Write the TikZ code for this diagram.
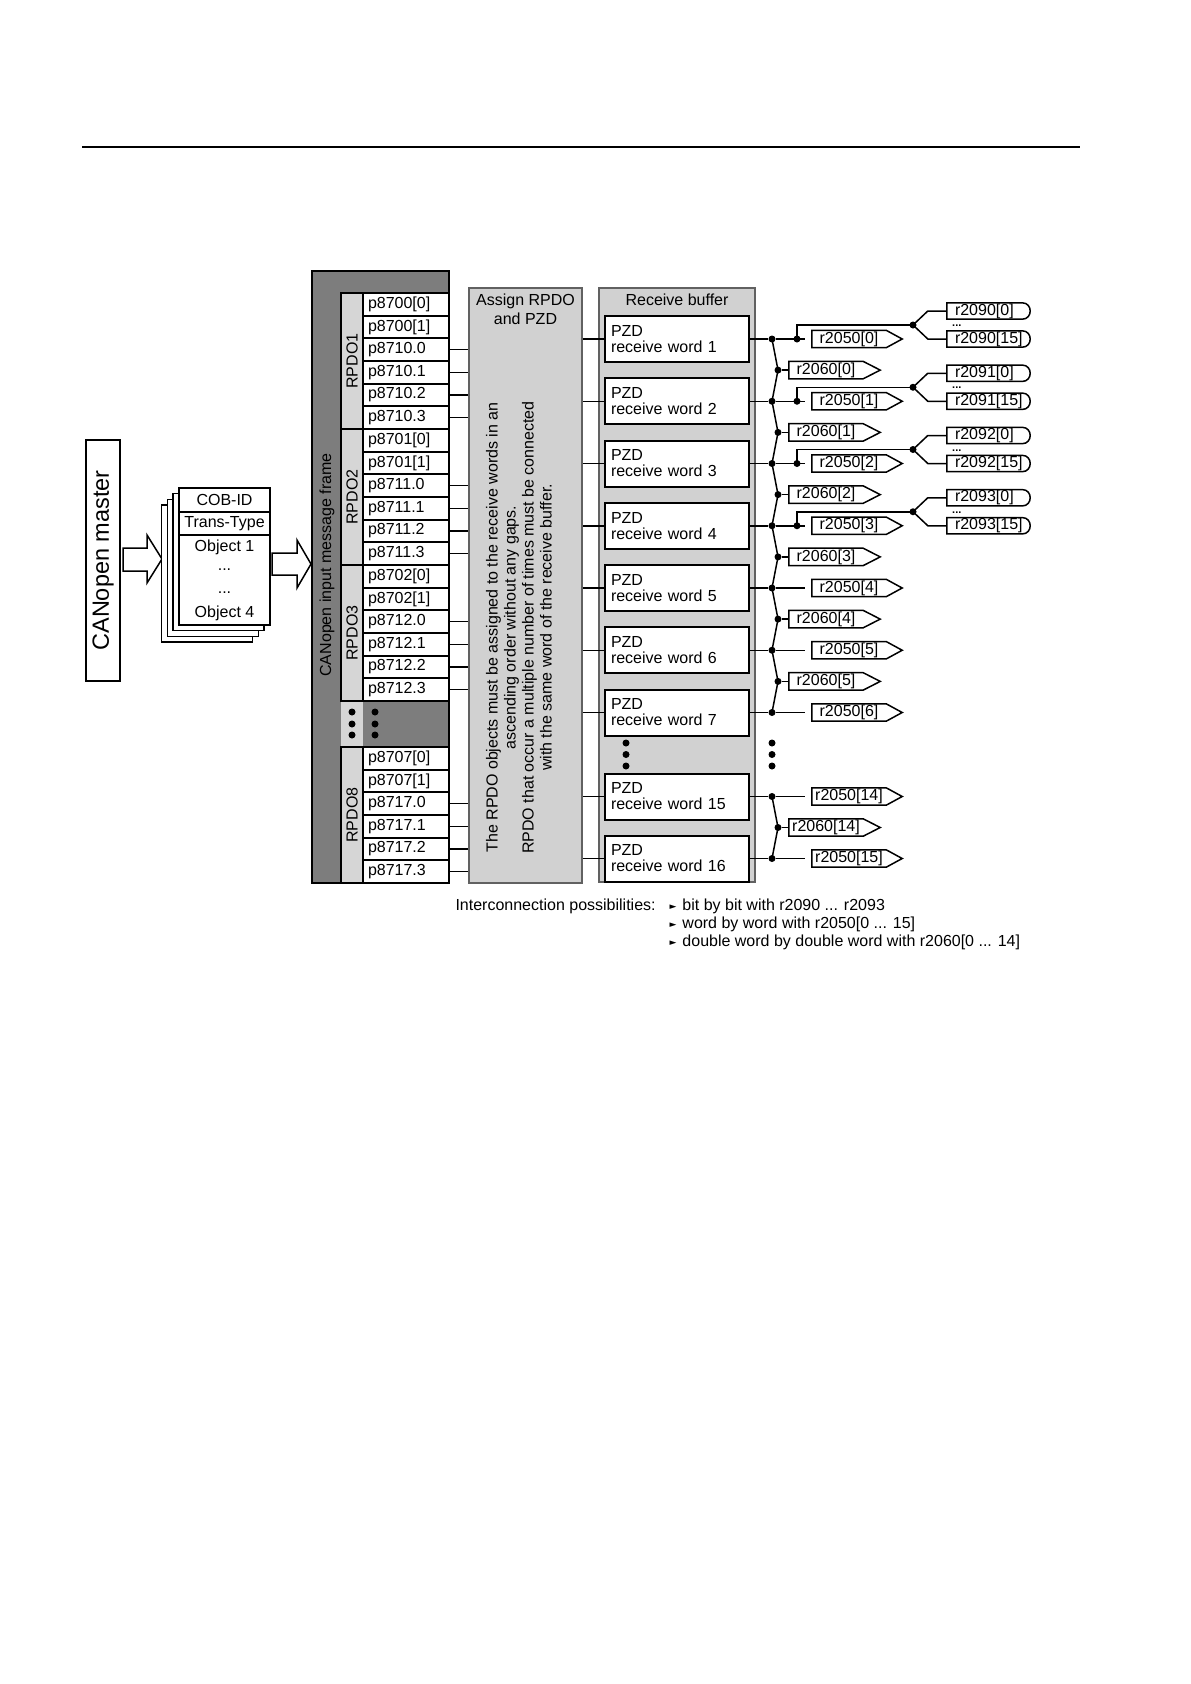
\documentclass[tikz,border=0pt]{standalone}
\usepackage{fontspec}
\setmainfont{Liberation Sans}
\newfontfamily\dejavu{DejaVu Sans}
\usetikzlibrary{calc,fit}
\definecolor{frameG}{gray}{0.49}
\definecolor{lightG}{gray}{0.84}
\definecolor{boxG}{gray}{0.82}
\definecolor{edgeG}{gray}{0.38}
\newcommand\fsz{\fontsize{16}{18}\selectfont}
\newcommand\tri{\raisebox{1pt}{\dejavu\fontsize{9}{9}\selectfont ►}}
\begin{document}
\begin{tikzpicture}[x=1pt,y=-1pt,
  every node/.style={font=\fsz},
  conn/.style={line width=1.5},
  cell/.style={draw, line width=1.8, fill=white, minimum height=22.667, inner xsep=5, inner ysep=0, text width=76, align=left},
  grp/.style={draw, line width=2.5, fill=lightG, inner sep=0},
  pzd/.style={draw, line width=2, fill=white, minimum width=144, minimum height=46, inner xsep=6, inner ysep=0, text width=132, align=left, font=\fontsize{16}{16}\selectfont},
  dot/.style={circle, fill=black, inner sep=0, minimum size=7},
  sigbox/.style={minimum width=74, minimum height=17, inner sep=0},
  sigline/.style={line width=1.5},
  bitbox/.style={minimum height=16, inner xsep=8, inner ysep=0},
  card/.style={draw, line width=1.5, fill=white, minimum width=91, minimum height=137, inner sep=0},
  cardrow/.style={draw, line width=1.5, fill=white, minimum width=91, inner sep=0}]
\useasboundingbox (0,0) rectangle (1191,1684);

% header rule
\draw[line width=1.8] (82,147) -- (1080,147);

% CANopen master
\node[draw, line width=1.5, rotate=90, minimum width=241, minimum height=34, inner sep=0,
      font=\fontsize{23.5}{25}\selectfont] (master) at (103,560.5) {CANopen master};

% block arrow 1
\draw[line width=1.5, fill=white] (123,548) -- (147,548) -- (147,535) -- (162,559) -- (147,583) -- (147,571) -- (123,571) -- cycle;

% card stack
\foreach \i in {3,2,1}{
  \node[card] (card\i) at (224.5-5.8*\i,556.5+5.7*\i) {};
}
\node[card] (card0) at (224.5,556.5) {};
\node[cardrow, minimum height=24] (cob) at (224.5,500) {COB-ID};
\node[cardrow, minimum height=23] (trans) at (224.5,523.5) {Trans-Type};
\node (obj1) at (224.5,547) {Object 1};
\node[anchor=base] (odots1) at (224.5,570) {...};
\node[anchor=base] (odots2) at (224.5,593) {...};
\node (obj4) at (224.5,613) {Object 4};

% block arrow 2
\draw[line width=1.5, fill=white] (272,553) -- (297,553) -- (297,540) -- (311,564) -- (297,588) -- (297,575) -- (272,575) -- cycle;

% input message frame
\node[draw, line width=2.5, fill=frameG, inner sep=0, fit={(312,271) (449,883)}] (frame) {};
\node[rotate=90] (ftitle) at (327,565) {CANopen input message frame};

% Assign box
\node[draw=edgeG, line width=2, fill=boxG, inner sep=0, fit={(469,288) (582,883)}] (assign) {};
\node[anchor=base] (at1) at (525.5,305.7) {Assign RPDO};
\node[anchor=base] (at2) at (525.5,324) {and PZD};
\node[rotate=90, align=center] (anote) at (519,627.5)
  {The RPDO objects must be assigned to the receive words in an\\
   ascending order without any gaps.\\
   RPDO that occur a multiple number of times must be connected\\
   with the same word of the receive buffer.};

% RPDO groups
\foreach \g/\tp/\lab/\a/\b in {1/293/RPDO1/8700/8710,2/429/RPDO2/8701/8711,3/565/RPDO3/8702/8712,8/747/RPDO8/8707/8717}{
  \node[grp, fit={(341,\tp) (449,\tp+136)}] (g\g) {};
  \node[rotate=90] (gl\g) at (352,\tp+68) {\lab};
  \node[cell] (pa\g) at (406,\tp+11.333) {p\a[0]};
  \node[cell] (pb\g) at (406,\tp+34) {p\a[1]};
  \foreach \i in {0,...,3}{
    \node[cell] (q\g\i) at (406,\tp+56.667+22.667*\i) {p\b.\i};
    \draw[conn] (q\g\i.east) -- (q\g\i.east -| assign.west);
  }
}
% gap with ellipsis
\node[fill=lightG, inner sep=0, fit={(341,702) (363,746)}] (gap) {};
\foreach \yy/\n in {712/1,724/2,735/3}{
  \node[dot] (gda\n) at (352,\yy) {};
  \node[dot] (gdb\n) at (375,\yy) {};
}

% Receive buffer
\node[draw=edgeG, line width=2, fill=boxG, inner sep=0, fit={(599,288) (755,882)}] (rbuf) {};
\node[anchor=base] (rtitle) at (677,305.7) {Receive buffer};

\foreach \k/\yy/\j in {1/339/0,2/401.25/1,3/463.5/2,4/525.75/3,5/588/4,6/650.25/5,7/712.5/6,15/796.5/14,16/858.5/15}{
  \node[pzd] (w\k) at (677,\yy) {PZD\\receive word \k};
  \draw[conn] (w\k.west -| assign.east) -- (w\k.west);
  \node[dot] (d\k) at (772,\yy) {};
  \draw[conn] (w\k.east) -- (d\k);
  \node[sigbox] (s\k) at (849,\yy) {r2050[\j]};
  \draw[sigline] (s\k.north west) -- (s\k.north east) -- ($(s\k.east)+(16,0)$) -- (s\k.south east) -- (s\k.south west) -- cycle;
  \coordinate (le\k) at ($(s\k.west)+(-7,0)$);
  \draw[conn] (d\k) -- (le\k);
}
% ellipsis in buffer and bus
\foreach \yy/\n in {743/1,754.5/2,766/3}{
  \node[dot] (bd\n) at (626,\yy) {};
  \node[dot] (rd\n) at (772,\yy) {};
}

% double words
\foreach \m/\yy/\idx in {1/370.1/0,2/432.4/1,3/494.6/2,4/556.9/3,5/619.1/4,6/681.4/5,14/827.5/14}{
  \node[dot] (m\m) at (778,\yy) {};
  \node[sigbox] (t\m) at (826,\yy) {r2060[\idx]};
  \draw[sigline] (t\m.north west) -- (t\m.north east) -- ($(t\m.east)+(17,0)$) -- (t\m.south east) -- (t\m.south west) -- cycle;
  \draw[conn] (m\m) -- (t\m.west);
}
\draw[conn] (d1.center) -- (m1.center) -- (d2.center) -- (m2.center) -- (d3.center) -- (m3.center) -- (d4.center) -- (m4.center) -- (d5.center) -- (m5.center) -- (d6.center) -- (m6.center) -- (d7.center);
\draw[conn] (d15.center) -- (m14.center) -- (d16.center);

% bit-wise branches
\foreach \k/\yy in {1/339,2/401.25,3/463.5,4/525.75}{
  \pgfmathtruncatemacro\n{2089+\k}
  \node[dot] (e\k) at (797,\yy) {};
  \coordinate (h\k) at (797,\yy-14);
  \node[dot] (f\k) at (913,\yy-14) {};
  \draw[conn] (e\k.center) -- (h\k) -- (f\k.center);
  \node[bitbox] (ba\k) at (984.5,\yy-28) {\makebox[59pt][l]{r\n[0]}};
  \node[bitbox] (bb\k) at (984.5,\yy) {\makebox[59pt][l]{r\n[15]}};
  \foreach \b in {ba,bb}{
    \draw[sigline] (\b\k.south east) -- (\b\k.south west) -- (\b\k.north west) -- (\b\k.north east) .. controls +(10.67,0) and +(10.67,0) .. (\b\k.south east);
    \draw[conn] (f\k.center) -- ([xshift=-19]\b\k.west) -- (\b\k.west);
  }
  \node[anchor=base west, inner sep=0, font=\bfseries\fontsize{11}{11}\selectfont] (el\k) at (952,\yy-12.5) {...};
}

% interconnection notes
\node[anchor=base west] (ic) at (452,910) {Interconnection possibilities:};
\node[anchor=base west] (it1) at (666,910) {\tri\hspace{6pt}bit by bit with r2090 ... r2093};
\node[anchor=base west] (it2) at (666,928) {\tri\hspace{6pt}word by word with r2050[0 ... 15]};
\node[anchor=base west] (it3) at (666,946) {\tri\hspace{6pt}double word by double word with r2060[0 ... 14]};
\end{tikzpicture}
\end{document}
